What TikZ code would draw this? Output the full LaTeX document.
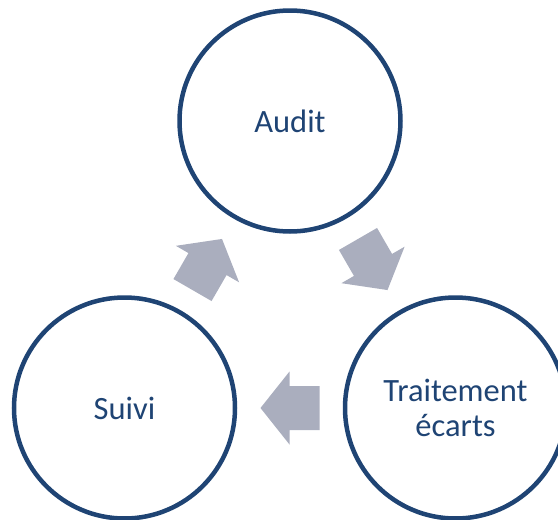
\documentclass[tikz,border=0pt]{standalone}
\usepackage{fontspec}
\setmainfont{Carlito}
\usetikzlibrary{calc}
\definecolor{ringblue}{HTML}{1F4474}
\definecolor{arrowgray}{HTML}{AAAEBE}

\begin{document}
\begin{tikzpicture}[x=1pt,y=1pt,
 stage/.style={circle,draw=ringblue,line width=4.5pt,minimum size=221pt,inner sep=0pt,
 align=center,text=ringblue,font=\fontsize{32.5}{35}\selectfont}]
\useasboundingbox (0,0) rectangle (558,-520);
\node[stage] (audit) at (290,-121) {Audit};
\node[stage] (suivi) at (124.5,-408) {Suivi};
\node[stage] (trait) at (455.5,-408) {Traitement\\écarts};
% block arrows halfway between the stages
\foreach \a/\b/\ang in {suivi/audit/60,audit/trait/-60,trait/suivi/180}
 \fill[arrowgray,shift={($(\a)!.5!(\b)$)},rotate=\ang] (29.5,0)--(0.5,36.5)--(0.5,22)--(-29.5,22)
 --(-29.5,-22)--(0.5,-22)--(0.5,-36.5)--cycle;
\end{tikzpicture}
\end{document}
